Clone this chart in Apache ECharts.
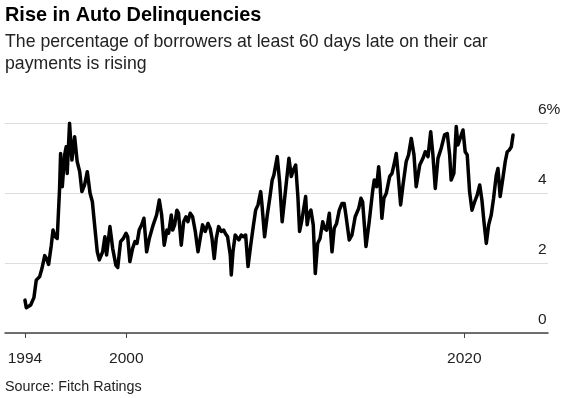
<!DOCTYPE html>
<html>
<head>
<meta charset="utf-8">
<script src="https://cdn.jsdelivr.net/npm/echarts@6/dist/echarts.min.js"></script>
<style>
html,body{margin:0;padding:0;background:#fff;}
#chart{width:572px;height:398px;}
</style>
</head>
<body>
<div id="chart"></div>
<script>
const titleText = 'Rise in Auto Delinquencies';
const subtitleText = 'The percentage of borrowers at least 60 days late on their car\npayments is rising';
const sourceText = 'Source: Fitch Ratings';
const xTickYears = [1994, 2000, 2020];
const yTicks = [0, 2, 4, 6];

const years = [1994.00,1994.08,1994.34,1994.53,1994.67,1994.87,1995.01,1995.17,1995.27,1995.40,1995.56,1995.66,1995.79,1995.91,
1996.05,1996.11,1996.21,1996.35,1996.44,1996.50,1996.64,1996.78,1996.94,1997.09,1997.24,1997.37,1997.53,1997.69,1997.85,1997.99,
1998.14,1998.28,1998.40,1998.60,1998.73,1998.83,1999.03,1999.19,1999.38,1999.49,1999.66,1999.82,1999.98,2000.08,2000.21,2000.37,
2000.51,2000.63,2000.76,2000.91,2001.04,2001.20,2001.36,2001.50,2001.59,2001.79,2001.95,2002.09,2002.24,2002.40,2002.50,2002.66,
2002.74,2002.86,2002.99,2003.09,2003.25,2003.39,2003.53,2003.64,2003.78,2003.92,2004.08,2004.24,2004.37,2004.51,2004.67,2004.83,
2004.96,2005.07,2005.20,2005.32,2005.46,2005.62,2005.76,2005.85,2005.99,2006.15,2006.21,2006.31,2006.44,2006.53,2006.66,2006.80,
2006.92,2007.06,2007.20,2007.36,2007.51,2007.65,2007.79,2007.95,2008.02,2008.18,2008.34,2008.50,2008.63,2008.73,2008.93,2009.07,
2009.22,2009.43,2009.62,2009.76,2009.88,2010.02,2010.15,2010.25,2010.37,2010.47,2010.61,2010.70,2010.80,2010.92,2011.06,2011.18,
2011.32,2011.46,2011.62,2011.73,2011.85,2012.01,2012.17,2012.30,2012.44,2012.60,2012.76,2012.89,2012.99,2013.19,2013.35,2013.54,
2013.75,2013.88,2013.98,2014.18,2014.37,2014.57,2014.67,2014.81,2014.93,2015.01,2015.12,2015.24,2015.38,2015.58,2015.72,2015.88,
2015.97,2016.07,2016.23,2016.37,2016.56,2016.70,2016.86,2017.02,2017.15,2017.36,2017.55,2017.69,2017.85,2018.01,2018.14,2018.28,
2018.44,2018.63,2018.83,2018.99,2019.13,2019.22,2019.38,2019.52,2019.62,2019.82,2019.92,2020.05,2020.17,2020.31,2020.45,2020.61,
2020.76,2020.91,2021.04,2021.16,2021.30,2021.44,2021.59,2021.73,2021.89,2021.99,2022.12,2022.28,2022.42,2022.54,2022.66,2022.78,2022.88];

const rates = [0.94,0.72,0.80,1.01,1.51,1.61,1.85,2.21,2.13,1.96,2.51,2.94,2.75,2.70,
4.13,5.13,4.18,5.09,5.32,4.56,5.99,4.94,5.61,4.90,4.61,4.04,4.23,4.61,4.00,3.75,
3.00,2.32,2.09,2.32,2.75,2.23,3.04,2.42,1.94,1.87,2.61,2.70,2.85,2.75,2.04,2.42,
2.61,2.56,2.94,3.09,3.28,2.32,2.70,2.94,3.09,3.37,3.80,3.37,2.51,2.94,2.85,3.37,
2.94,3.09,3.51,3.42,2.51,3.18,3.32,3.18,3.42,3.32,2.90,2.32,2.70,3.09,2.90,3.13,
2.99,2.70,2.13,2.70,3.04,2.90,2.94,2.85,2.75,2.23,1.66,2.32,2.80,2.85,2.66,2.80,
2.75,2.80,1.90,2.51,3.04,3.51,3.66,4.04,3.70,2.75,3.37,3.90,4.37,4.51,5.04,4.32,
3.18,4.13,4.99,4.47,4.66,4.80,3.90,2.90,3.18,3.13,3.90,3.09,3.40,3.51,3.09,1.70,
2.56,2.70,3.18,2.99,2.94,3.42,2.32,2.99,3.13,3.51,3.70,3.70,3.37,2.66,2.80,3.32,
3.56,3.85,3.75,2.47,3.18,4.04,4.37,4.18,4.75,4.28,3.28,3.85,3.99,4.47,4.56,4.90,
5.13,4.61,3.66,4.23,4.90,5.09,5.56,5.09,4.18,4.80,4.99,5.18,5.04,5.75,5.09,4.13,
4.99,5.28,5.66,5.70,5.09,4.37,4.56,5.90,5.37,5.66,5.80,5.18,5.09,4.04,3.51,3.75,
3.94,4.23,3.80,3.18,2.56,3.09,3.37,3.85,4.51,4.70,3.90,4.42,4.90,5.18,5.23,5.32,5.66];

const seriesData = years.map((y, i) => [y, rates[i]]);

const chart = echarts.init(document.getElementById('chart'), null, {renderer: 'canvas'});
const FONT = '"Liberation Sans", Arial, sans-serif';
chart.setOption({
  animation: false,
  backgroundColor: '#ffffff',
  textStyle: {fontFamily: FONT},
  title: [
    {text: titleText, left: 5, top: 6, padding: 0, textStyle: {fontFamily: FONT, fontSize: 19.9, fontWeight: 'bold', color: '#000'}},
    {text: subtitleText, left: 5, top: 31, padding: 0, textStyle: {fontFamily: FONT, fontSize: 17.7, fontWeight: 'normal', color: '#222', lineHeight: 22}},
    {text: sourceText, left: 5, top: 380, padding: 0, textStyle: {fontFamily: FONT, fontSize: 14.3, fontWeight: 'normal', color: '#222'}}
  ],
  grid: {left: 5, right: 24, top: 123, bottom: 65, containLabel: false},
  xAxis: {
    type: 'value',
    min: 1992.82,
    max: 2024.95,
    axisLine: {show: true, lineStyle: {color: '#444', width: 1.5}},
    axisTick: {show: true, length: 5, customValues: xTickYears, lineStyle: {color: '#444', width: 1}},
    axisLabel: {show: true, customValues: xTickYears, margin: 18, fontSize: 15.5, color: '#222', fontFamily: FONT, formatter: v => String(v)},
    splitLine: {show: false}
  },
  yAxis: {
    type: 'value',
    position: 'right',
    min: 0,
    max: 6,
    interval: 2,
    axisLine: {show: false},
    axisTick: {show: false},
    axisLabel: {
      show: true, margin: -10, align: 'left', verticalAlign: 'bottom', padding: [0, 0, 5, 0],
      fontSize: 15.5, color: '#222', fontFamily: FONT,
      formatter: v => (v === 6 ? v + '%' : String(v))
    },
    splitLine: {show: true, lineStyle: {color: '#dddddd', width: 1}}
  },
  series: [{
    type: 'line',
    data: seriesData,
    showSymbol: false,
    symbol: 'none',
    lineStyle: {color: '#000', width: 3.5, join: 'round', cap: 'round'},
    z: 5
  }]
});
</script>
</body>
</html>
